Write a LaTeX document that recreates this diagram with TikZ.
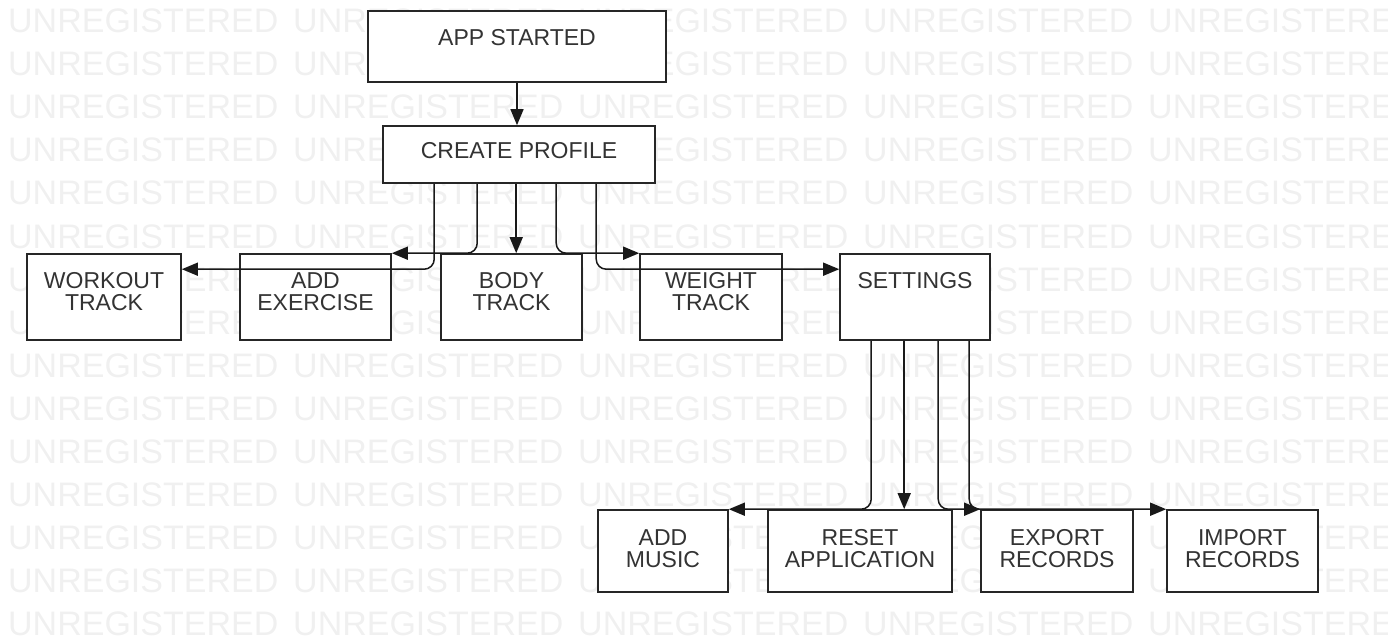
\documentclass[tikz,border=0pt]{standalone}
\usepackage{fontspec}
\setmainfont{Liberation Sans}
\usetikzlibrary{arrows.meta,calc}
\begin{document}
\begin{tikzpicture}[x=1pt,y=-1pt,
  box/.style={draw=black!85, line width=1.6pt, fill=white, inner sep=0pt},
  txt/.style={inner sep=0pt, anchor=north, align=center, text=black!80,
    font=\fontsize{23}{22}\selectfont},
  conn/.style={draw=black!90, line width=1.5pt,
    -{Triangle[length=16pt,width=13pt]}},
  wm/.style={inner sep=0pt, anchor=west, text=black!6,
    font=\fontsize{34}{34}\selectfont}]
\useasboundingbox (0,0) rectangle (1399,639);
% watermark
\begin{scope}
  \clip (0,0) rectangle (1387,639);
  \foreach \i in {0,...,14}{
    \foreach \j in {0,...,4}{
      \node[wm] (wm-\i-\j) at ({8+285*\j},{21+43.07*\i}) {UNREGISTERED};
    }
  }
\end{scope}
% boxes
\node[box, minimum width=298pt, minimum height=71pt] (app) at (517,46.5) {};
\node[box, minimum width=272pt, minimum height=57pt] (create) at (519,154.5) {};
\node[box, minimum width=154pt, minimum height=86pt] (workout) at (104,297) {};
\node[box, minimum width=151pt, minimum height=86pt] (addex) at (315.5,297) {};
\node[box, minimum width=141pt, minimum height=86pt] (body) at (511.5,297) {};
\node[box, minimum width=142pt, minimum height=86pt] (weight) at (711,297) {};
\node[box, minimum width=150pt, minimum height=86pt] (settings) at (915,297) {};
\node[box, minimum width=130pt, minimum height=82pt] (music) at (663,551) {};
\node[box, minimum width=184pt, minimum height=82pt] (reset) at (860,551) {};
\node[box, minimum width=152pt, minimum height=82pt] (export) at (1057,551) {};
\node[box, minimum width=151pt, minimum height=82pt] (import) at (1242.5,551) {};
% connectors
\draw[conn] (app.south) -- (app.south |- create.north);
\coordinate (c1) at ($(create.south west)+(52,0)$);
\coordinate (c2) at ($(create.south west)+(95,0)$);
\coordinate (c3) at ($(create.south west)+(134,0)$);
\coordinate (c4) at ($(create.south west)+(174,0)$);
\coordinate (c5) at ($(create.south west)+(214,0)$);
\draw[conn] (c1) [rounded corners=10pt] |- ($(workout.north east)+(0,16)$) [sharp corners];
\draw[conn] (c2) [rounded corners=10pt] |- (addex.north east) [sharp corners];
\draw[conn] (c3) -- (c3 |- body.north);
\draw[conn] (c4) [rounded corners=10pt] |- (weight.north west) [sharp corners];
\draw[conn] (c5) [rounded corners=10pt] |- ($(settings.north west)+(0,16)$) [sharp corners];
\coordinate (s1) at ($(settings.south west)+(32,0)$);
\coordinate (s2) at ($(settings.south west)+(65,0)$);
\coordinate (s3) at ($(settings.south west)+(99,0)$);
\coordinate (s4) at ($(settings.south west)+(130,0)$);
\draw[conn] (s1) [rounded corners=10pt] |- (music.north east) [sharp corners];
\draw[conn] (s2) -- (s2 |- reset.north);
\draw[conn] (s3) [rounded corners=10pt] |- (export.north west) [sharp corners];
\draw[conn] (s4) [rounded corners=10pt] |- (import.north west) [sharp corners];
% texts
\node[txt] (appT) at ([yshift=-19pt]app.north) {APP STARTED};
\node[txt] (createT) at ([yshift=-17pt]create.north) {CREATE PROFILE};
\node[txt] (workoutT) at ([yshift=-19pt]workout.north) {WORKOUT\\TRACK};
\node[txt] (addexT) at ([yshift=-19pt]addex.north) {ADD\\EXERCISE};
\node[txt] (bodyT) at ([yshift=-19pt]body.north) {BODY\\TRACK};
\node[txt] (weightT) at ([yshift=-19pt]weight.north) {WEIGHT\\TRACK};
\node[txt] (settingsT) at ([yshift=-19pt]settings.north) {SETTINGS};
\node[txt] (musicT) at ([yshift=-20pt]music.north) {ADD\\MUSIC};
\node[txt] (resetT) at ([yshift=-20pt]reset.north) {RESET\\APPLICATION};
\node[txt] (exportT) at ([yshift=-20pt]export.north) {EXPORT\\RECORDS};
\node[txt] (importT) at ([yshift=-20pt]import.north) {IMPORT\\RECORDS};
\end{tikzpicture}
\end{document}
